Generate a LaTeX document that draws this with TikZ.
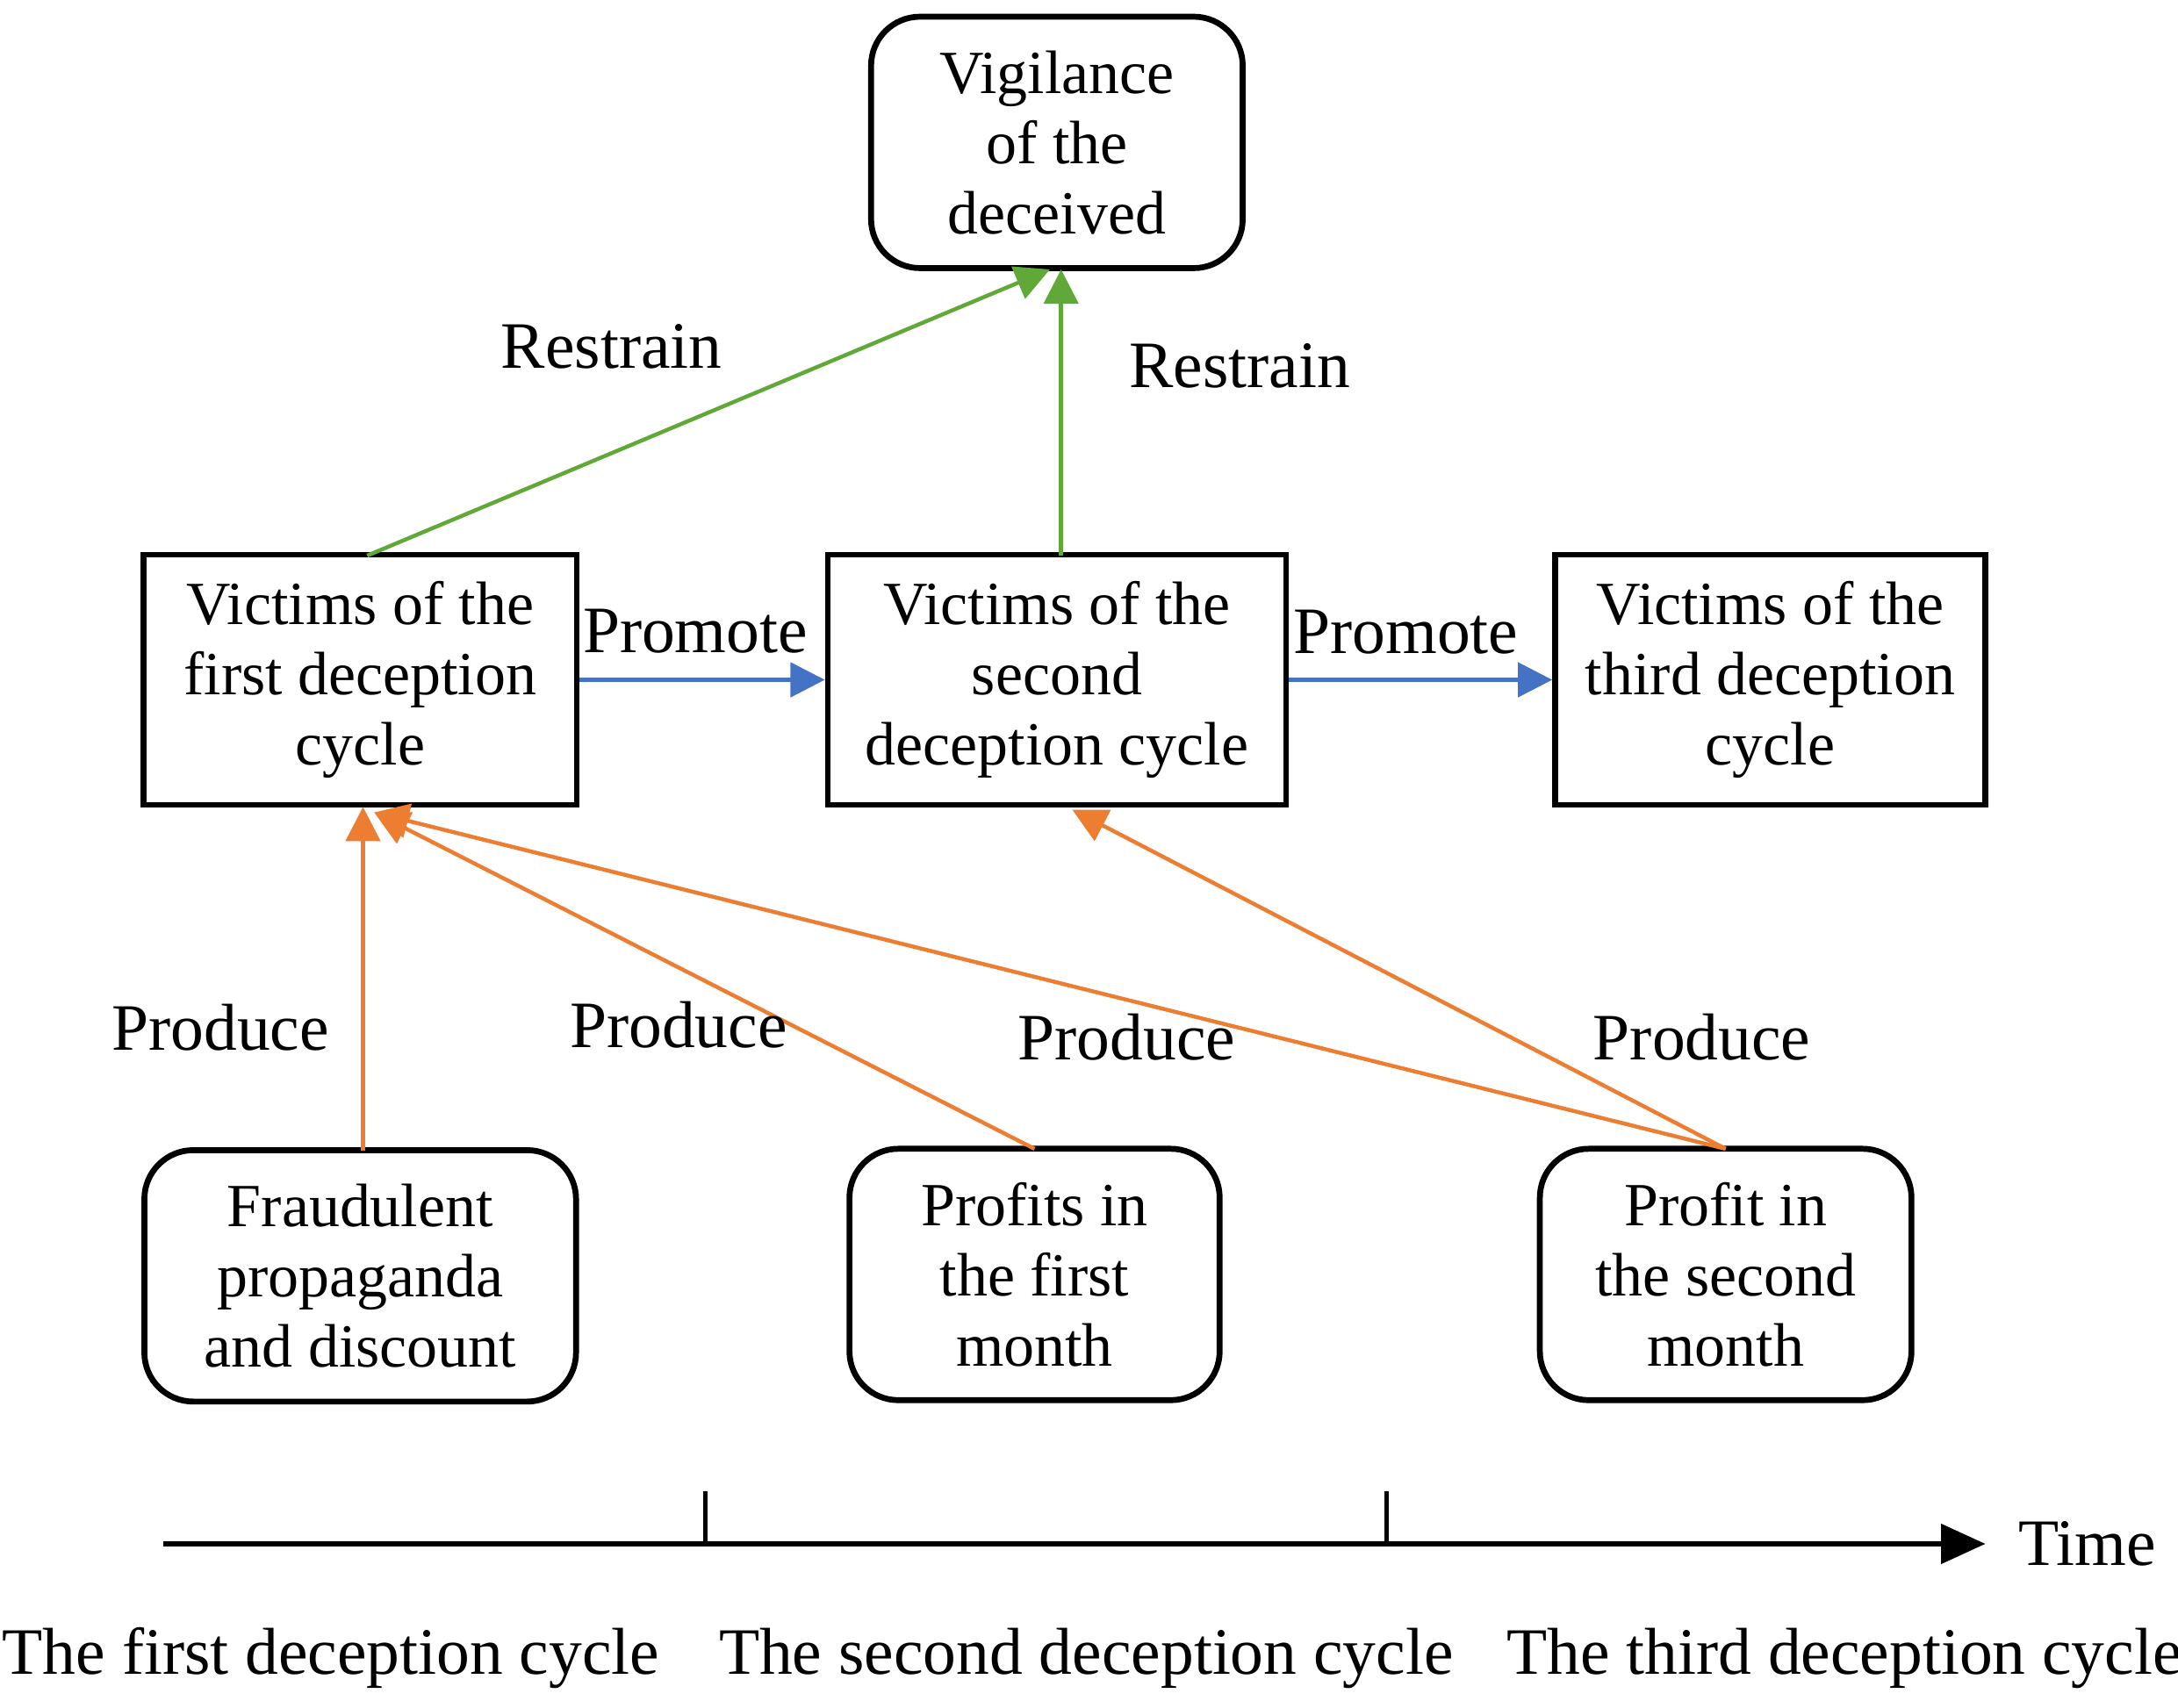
\documentclass[tikz,border=0pt]{standalone}
\usepackage{fontspec}
\setmainfont{Liberation Serif}
\usetikzlibrary{arrows.meta}
\definecolor{gr}{RGB}{96,168,56}
\definecolor{org}{RGB}{237,125,49}
\definecolor{bl}{RGB}{68,114,196}
\begin{document}
\begin{tikzpicture}[x=0.01cm,y=-0.01cm,
  every node/.style={font=\fontsize{12.5}{14.3}\selectfont},
  box/.style={draw,line width=1.2pt,align=center,inner sep=0pt},
  rbox/.style={box,rounded corners=0.35cm},
  lab/.style={font=\fontsize{13.5}{15}\selectfont},
  ga/.style={draw=gr,line width=0.8pt,-{Triangle[length=7pt,width=7pt]}},
  oa/.style={draw=org,line width=0.8pt,-{Triangle[length=7pt,width=7pt]}},
  ba/.style={draw=bl,line width=0.8pt,-{Triangle[length=7pt,width=7pt]}}]
\useasboundingbox (0,0) rectangle (1560,1223);
\node[rbox,minimum width=2.66cm,minimum height=1.8cm] (vig) at (757,102) {Vigilance\\of the\\deceived};
\node[box,minimum width=3.1cm,minimum height=1.79cm] (v1) at (258,487) {Victims of the\\first deception\\cycle};
\node[box,minimum width=3.28cm,minimum height=1.79cm] (v2) at (757,487) {Victims of the\\second\\deception cycle};
\node[box,minimum width=3.08cm,minimum height=1.79cm] (v3) at (1268,487) {Victims of the\\third deception\\cycle};
\node[rbox,minimum width=3.09cm,minimum height=1.8cm] (f) at (258,914) {Fraudulent\\propaganda\\and discount};
\node[rbox,minimum width=2.65cm,minimum height=1.8cm] (p1) at (741,913) {Profits in\\the first\\month};
\node[rbox,minimum width=2.66cm,minimum height=1.8cm] (p2) at (1236,913) {Profit in\\the second\\month};
\coordinate (v1t) at (263,398);
\coordinate (vigb) at (752,193);
\coordinate (v2t) at (760,398);
\coordinate (vigb2) at (760,193);
\coordinate (v1b) at (260,578);
\coordinate (v1b2) at (268,582);
\coordinate (v2b) at (768,580);
\coordinate (ft) at (260,824);
\coordinate (p1t) at (741,823);
\coordinate (p2t) at (1236,823);
\draw[ga] (v1t) -- (vigb);
\draw[ga] (v2t) -- (vigb2);
\draw[ba] (v1.east) -- (v2.west);
\draw[ba] (v2.east) -- (v3.west);
\draw[oa] (ft) -- (v1b);
\draw[oa] (p1t) -- (v1b2);
\draw[oa] (p2t) -- (v1b2);
\draw[oa] (p2t) -- (v2b);
\node[lab] (r1) at (438,248) {Restrain};
\node[lab] (r2) at (888,262) {Restrain};
\node[lab] (pr1) at (498,452) {Promote};
\node[lab] (pr2) at (1007,453) {Promote};
\node[lab] (d1) at (158,736) {Produce};
\node[lab] (d2) at (486,734) {Produce};
\node[lab] (d3) at (807,743) {Produce};
\node[lab] (d4) at (1219,743) {Produce};
\coordinate (a0) at (117,1106);
\coordinate (a1) at (1422,1106);
\draw[line width=0.9pt,-{Triangle[length=9pt,width=8pt]}] (a0) -- (a1);
\coordinate (t1a) at (505,1068); \coordinate (t1b) at (505,1106);
\coordinate (t2a) at (993,1068); \coordinate (t2b) at (993,1106);
\draw[line width=0.9pt] (t1a) -- (t1b);
\draw[line width=0.9pt] (t2a) -- (t2b);
\node[lab] (time) at (1495,1106) {Time};
\node[lab] (c1) at (237,1188) {The first deception cycle};
\node[lab] (c2) at (778,1188) {The second deception cycle};
\node[lab] (c3) at (1321,1188) {The third deception cycle};
\end{tikzpicture}
\end{document}
